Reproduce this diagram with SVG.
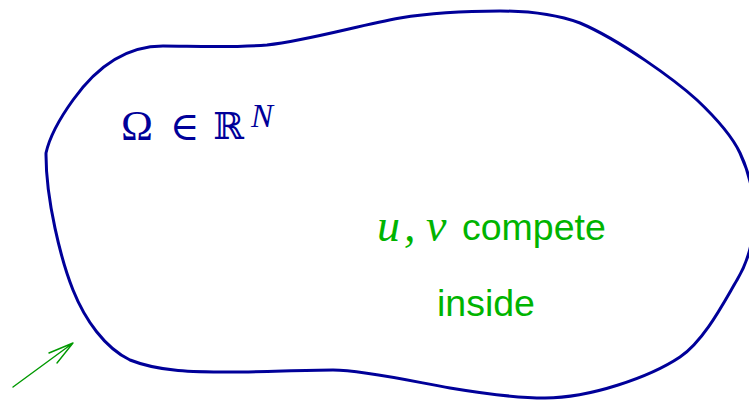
<svg xmlns="http://www.w3.org/2000/svg" width="749" height="401" viewBox="0 0 749 401">
<style>
.blob{fill:none;stroke:#000099;stroke-width:3;stroke-linejoin:round}
.arr{fill:none;stroke:#009900;stroke-width:1.4;stroke-linecap:round}
.math{font-family:"Liberation Serif","DejaVu Serif",serif;fill:#000099}
.g{fill:#00b400}
.sans{font-family:"Liberation Sans",Arial,sans-serif;font-size:37.5px}
.mi{font-family:"Liberation Serif",serif;font-style:italic;font-size:46px}
</style>
<rect width="749" height="401" fill="#fff"/>
<g id="domain">
<path class="blob" d="M46,155 C46,200 61,260 73,290 C85,320 105,348 130,360 C160,372 195,372 230,372 C265,372 300,370 333,370 C365,370 420,383 450,388 C480,393 515,398 545,398 C590,398 650,377 680,357 C705,340 725,300 737,280 C749,260 754,240 754,215 C754,190 748,170 740,153 C732,136 715,117 697,100 C675,80 620,40 580,23 C555,14 530,11 500,11 C465,11 430,13 400,18 C360,25 310,40 267,45 C230,48 190,46 163,46 C130,46 100,62 73,100 C60,118 50,135 46,153 Z"/>
</g>
<g id="label-omega">
<text class="math" x="121" y="140" font-size="43">Ω</text>
<text class="math" x="170" y="140" font-size="40">∈</text>
<text class="math" x="213" y="139" font-size="37" style="font-family:'DejaVu Serif',serif">ℝ</text>
<text class="math" x="251" y="127" font-size="33" font-style="italic">N</text>
</g>
<g id="label-compete" class="g">
<text class="mi" x="377" y="241">u</text>
<text class="mi" x="404" y="241">,</text>
<text class="mi" x="426" y="241">v</text>
<text class="sans" x="462" y="240">compete</text>
</g>
<g id="label-inside" class="g">
<text class="sans" x="437" y="316">inside</text>
</g>
<g id="connectors">
<path class="arr" d="M13,387 L73,343 M49,353 L73,343 L57,363"/>
</g>
</svg>
